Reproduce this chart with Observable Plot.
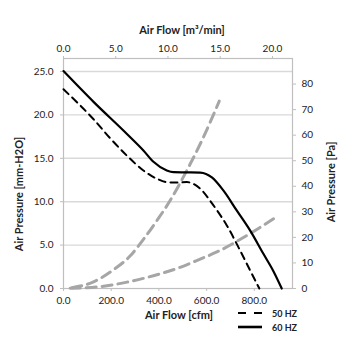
<!DOCTYPE html>
<html>
<head>
<meta charset="utf-8">
<script src="https://cdn.jsdelivr.net/npm/d3@7"></script>
<script src="https://cdn.jsdelivr.net/npm/@observablehq/plot@0.6"></script>
<style>
  html, body { margin: 0; padding: 0; background: #fff; }
  #chart { width: 355px; height: 355px; }
  svg { font-family: Lato, "Open Sans", sans-serif; }
</style>
</head>
<body>
<div id="chart"></div>
<script>
// ---- data (cfm, mm-H2O) ----
const hz60Cfm = [0, 126, 266, 335, 377, 433, 461, 520, 573, 622, 670, 726, 782, 838, 880, 915];
const hz60Mm  = [25.05, 21.5, 17.8, 15.9, 14.6, 13.6, 13.4, 13.38, 13.35, 12.8, 11.3, 9.0, 6.7, 4.0, 2.0, 0];
const hz50Cfm = [0, 126, 196, 266, 335, 391, 433, 475, 517, 573, 628, 684, 740, 782, 821];
const hz50Mm  = [22.95, 19.5, 17.3, 15.3, 13.6, 12.65, 12.26, 12.2, 12.26, 11.5, 9.6, 7.3, 4.4, 2.1, 0];
// system curves (cfm, Pa)
const sysACfm = [35, 126, 209, 279, 335, 391, 447, 489, 530, 580, 653];
const sysAPa  = [0.3, 2.6, 7.3, 12.7, 19.2, 26.5, 34.4, 41.3, 48.5, 57.9, 73.3];
const sysBCfm = [28, 140, 266, 377, 489, 573, 643, 782, 894];
const sysBPa  = [0.1, 0.6, 2.5, 5.0, 8.3, 11.5, 14.3, 21.5, 28.1];
// tick labels
const cfmTicks = [0, 200, 400, 600, 800];
const mmTicks = [0, 5, 10, 15, 20, 25];
const paTicks = [0, 10, 20, 30, 40, 50, 60, 70, 80];
const m3Ticks = [0, 5, 10, 15, 20];
const series = ["50 HZ", "60 HZ"];

const X_MAX = 960, Y_MAX = 26.5, PA_MAX = 90;
const PK = Y_MAX / PA_MAX;   // Pa -> left scale units
const MK = 43.8;            // m3/min -> cfm scale units

const zip = (xs, ys) => xs.map((x, i) => ({x, y: ys[i]}));
const hz60 = zip(hz60Cfm, hz60Mm);
const hz50 = zip(hz50Cfm, hz50Mm);
const sysA = zip(sysACfm, sysAPa);
const sysB = zip(sysBCfm, sysBPa);

const axisColor = "#bfbfbf";
const gridColor = "#d9d9d9";
const gray = "#a6a6a6";

const plot = Plot.plot({
  width: 355,
  height: 355,
  marginLeft: 63,
  marginRight: 63,
  marginTop: 58,
  marginBottom: 67,
  style: {fontFamily: "Lato, 'Open Sans', sans-serif", fontSize: "10px", color: "#222", background: "#fff"},
  x: {domain: [0, X_MAX], label: null},
  y: {domain: [0, Y_MAX], label: null},
  marks: [
    Plot.gridY(mmTicks.filter(d => d > 0), {stroke: gridColor, strokeOpacity: 1, strokeWidth: 1.4}),
    Plot.frame({stroke: axisColor, strokeWidth: 1.2}),
    Plot.axisX(cfmTicks, {anchor: "bottom", tickSize: 3, tickPadding: 5, stroke: axisColor, tickFormat: d => d.toFixed(1), fill: "#222"}),
    Plot.axisX(m3Ticks.map(d => d * MK), {anchor: "top", tickSize: 3, tickPadding: 4, stroke: axisColor, tickFormat: d => (d / MK).toFixed(1), fill: "#222"}),
    Plot.axisY(mmTicks, {anchor: "left", tickSize: 3, tickPadding: 7, stroke: axisColor, tickFormat: d => d.toFixed(1), fill: "#222"}),
    Plot.axisY(paTicks.map(d => d * PK), {anchor: "right", tickSize: 3, tickPadding: 6, stroke: axisColor, tickFormat: d => String(Math.round(d / PK)), fill: "#222"}),
    Plot.line(sysA, {x: "x", y: d => d.y * PK, stroke: gray, strokeWidth: 3, strokeDasharray: "10,6", curve: "monotone-x"}),
    Plot.line(sysB, {x: "x", y: d => d.y * PK, stroke: gray, strokeWidth: 3, strokeDasharray: "10,6", curve: "monotone-x"}),
    Plot.line(hz50, {x: "x", y: "y", stroke: "#000", strokeWidth: 2, strokeDasharray: "7,5", curve: "monotone-x"}),
    Plot.line(hz60, {x: "x", y: "y", stroke: "#000", strokeWidth: 2.2, curve: "monotone-x"})
  ]
});

const svg = d3.select(plot);
const title = (x, y, txt, rot) => {
  const t = svg.append("text")
    .attr("text-anchor", "middle")
    .attr("dominant-baseline", "central")
    .attr("font-weight", "bold")
    .attr("font-size", "11px")
    .attr("fill", "#222")
    .text(txt);
  if (rot) t.attr("transform", `translate(${x},${y}) rotate(-90)`);
  else t.attr("x", x).attr("y", y);
};
title(182, 29, "Air Flow [m³/min]");
title(179, 314, "Air Flow [cfm]");
title(18, 194, "Air Pressure [mm-H2O]", true);
title(330, 182, "Air Pressure [Pa]", true);

// legend
const leg = svg.append("g");
series.forEach((s, i) => {
  const y = 313 + i * 14;
  leg.append("line").attr("x1", 238).attr("x2", 262).attr("y1", y).attr("y2", y)
    .attr("stroke", "#000").attr("stroke-width", i === 0 ? 2 : 2.6)
    .attr("stroke-dasharray", i === 0 ? "8,8" : null);
  leg.append("text").attr("x", 272).attr("y", y).attr("dominant-baseline", "central")
    .attr("text-anchor", "start")
    .attr("font-weight", "bold").attr("font-size", "9px").attr("fill", "#222").text(s);
});

document.getElementById("chart").appendChild(plot);
</script>
</body>
</html>
